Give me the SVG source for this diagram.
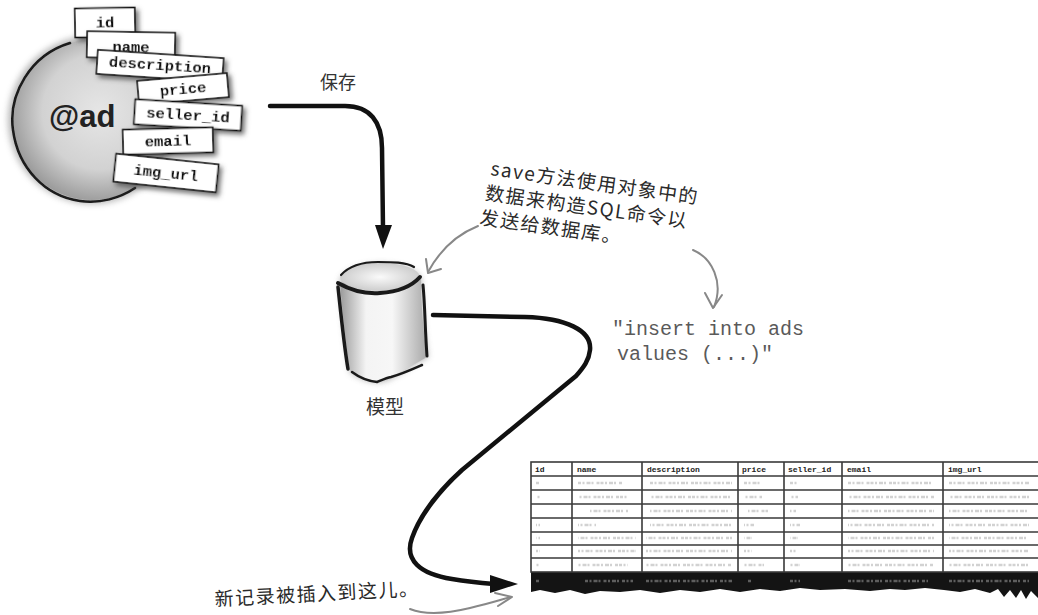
<svg xmlns="http://www.w3.org/2000/svg" width="1038" height="615" viewBox="0 0 1038 615">
  <defs>
    <style>
      .field rect { fill: #fff; stroke: #111; stroke-width: 1.6; }
      .field text { font-family: "Liberation Mono", "Courier New", monospace; font-weight: bold; font-size: 15.5px; fill: #111; text-anchor: middle; }
      .cjk { font-family: "Noto Sans CJK SC", "Noto Sans", sans-serif; fill: #333; }
      .hand { font-family: "Noto Sans CJK SC", "Noto Sans", sans-serif; fill: #2a2a2a; font-size: 19px; letter-spacing: 1.5px; }
      .sql { font-family: "Liberation Mono", "Courier New", monospace; font-size: 20px; fill: #5a5a5a; }
      .thick { fill: none; stroke: #111; stroke-width: 4.5; stroke-linecap: round; stroke-linejoin: round; }
      .pencil { fill: none; stroke: #888; stroke-width: 2; stroke-linecap: round; stroke-linejoin: round; }
      .ink { fill: none; stroke: #1a1a1a; stroke-linecap: round; stroke-linejoin: round; }
      .grid { stroke: #3a3a3a; stroke-width: 1.6; fill: none; }
      .head { font-family: "Liberation Mono", "Courier New", monospace; font-weight: bold; font-size: 8px; fill: #222; }
      .blur-row { fill: none; stroke: #d2d2d2; stroke-width: 2.5; }
      .blur-dark { fill: none; stroke: #5e5e5e; stroke-width: 2.5; }
    </style>
    <radialGradient id="blobFill" cx="0.55" cy="0.45" r="0.6">
      <stop offset="0" stop-color="#e6e6e6"/>
      <stop offset="0.6" stop-color="#d2d2d2"/>
      <stop offset="1" stop-color="#929292"/>
    </radialGradient>
    <linearGradient id="cylBody" x1="0" y1="0" x2="1" y2="0">
      <stop offset="0" stop-color="#9a9a9a"/>
      <stop offset="0.3" stop-color="#f4f4f4"/>
      <stop offset="0.6" stop-color="#f7f7f7"/>
      <stop offset="1" stop-color="#a8a8a8"/>
    </linearGradient>
    <radialGradient id="cylTop" cx="0.5" cy="0.5" r="0.6">
      <stop offset="0" stop-color="#fafafa"/>
      <stop offset="1" stop-color="#c4c4c4"/>
    </radialGradient>
    <filter id="soft" x="-30%" y="-30%" width="160%" height="160%">
      <feGaussianBlur stdDeviation="3"/>
    </filter>
    <filter id="edge" x="-20%" y="-20%" width="140%" height="140%">
      <feGaussianBlur stdDeviation="0.6"/>
    </filter>
    <filter id="cardShadow" x="-20%" y="-40%" width="150%" height="190%">
      <feDropShadow dx="3" dy="3" stdDeviation="2.5" flood-color="#444" flood-opacity="0.75"/>
    </filter>
  </defs>

  <rect width="1038" height="615" fill="#fff"/>

  <!-- the @ad object with its attribute cards -->
  <g id="ad-object">
    <circle cx="92" cy="120" r="84" fill="#9a9a9a" filter="url(#soft)" opacity="0.7"/>
    <circle cx="92" cy="120" r="80" fill="url(#blobFill)"/>
    <path d="M70,43 C30,55 8,95 13,130 C18,168 45,196 80,201 C100,204 120,198 135,188" class="ink" stroke-width="2.5" filter="url(#edge)"/>
    <text x="49" y="127" font-family="Liberation Sans, Arial, sans-serif" font-weight="bold" font-size="31" fill="#222">@ad</text>

    <g id="field-id" class="field" filter="url(#cardShadow)" transform="translate(105,22.5) rotate(-1)">
      <rect x="-30" y="-14.5" width="60" height="29"/>
      <text y="5">id</text>
    </g>
    <g id="field-name" class="field" filter="url(#cardShadow)" transform="translate(131,45) rotate(1)">
      <rect x="-44" y="-13" width="88" height="26"/>
      <text y="7">name</text>
    </g>
    <g id="field-description" class="field" filter="url(#cardShadow)" transform="translate(160,66) rotate(3.8)">
      <rect x="-63" y="-12" width="126" height="24"/>
      <text y="4">description</text>
    </g>
    <g id="field-price" class="field" filter="url(#cardShadow)" transform="translate(183,89) rotate(-5)">
      <rect x="-45" y="-12" width="90" height="24"/>
      <text y="5">price</text>
    </g>
    <g id="field-seller_id" class="field" filter="url(#cardShadow)" transform="translate(188,115) rotate(3.5)">
      <rect x="-53.5" y="-12.5" width="107" height="25"/>
      <text y="5">seller_id</text>
    </g>
    <g id="field-email" class="field" filter="url(#cardShadow)" transform="translate(168,141) rotate(-1.5)">
      <rect x="-45" y="-12.5" width="90" height="25"/>
      <text y="5">email</text>
    </g>
    <g id="field-img_url" class="field" filter="url(#cardShadow)" transform="translate(166,173) rotate(6)">
      <rect x="-51.5" y="-14" width="103" height="28"/>
      <text y="5">img_url</text>
    </g>
  </g>

  <!-- the model: a hand-drawn cylinder -->
  <g id="model">
    <path d="M340,280 C342,310 346,345 350,372 C362,380 375,385 388,380 C402,373 414,364 428,357 C424,330 421,305 421,278 C410,260 352,258 340,280 Z" fill="#9c9c9c" filter="url(#soft)" opacity="0.8"/>
    <path d="M340,283 C342,310 346,345 350,371 C362,378 375,384 388,379 C402,372 414,364 427,357 C423,330 421,305 421,278 Z" fill="url(#cylBody)"/>
    <ellipse cx="380" cy="277" rx="40" ry="14" fill="url(#cylTop)"/>
    <path d="M341,275 C350,265 365,262 378,262 C392,262 406,262 414,267" class="ink" stroke-width="2.2"/>
    <path d="M338,283 C352,291 366,294 380,293 C396,292 411,287 420,277" class="ink" stroke-width="4"/>
    <path d="M338,287 C341,315 344,345 348,369" class="ink" stroke-width="3.5"/>
    <path d="M423,285 C425,305 425,330 427,356" class="ink" stroke-width="3"/>
    <path d="M352,372 C360,378 368,381 377,382 C382,380 386,378 391,377 C402,374 413,369 422,365" class="ink" stroke-width="2.5"/>
    <text x="385" y="414" class="cjk" font-size="19" text-anchor="middle">模型</text>
  </g>

  <!-- the ads table -->
  <g id="ads-table">
    <path d="M531,572 L1038,572 L1038,598 L1031,591 L1026,599 L1021,590 L1016,598 L1010,590 L1004,597 L998,589 L990,593 L975,589 L960,592 L944,590 L925,588 L905,590 L890,589 L870,591 L845,589 L820,590 L800,588 L780,591 L760,589 L740,592 L720,589 L700,592 L680,590 L660,593 L640,590 L620,592 L600,591 L585,594 L570,590 L555,593 L540,590 L531,592 Z" fill="#141414"/>
    <rect x="531" y="462" width="510" height="110" fill="#fff" class="grid"/>
    <path class="grid" d="M531,476 H1038 M531,490 H1038 M531,504 H1038 M531,518 H1038 M531,532 H1038 M531,545 H1038 M531,558 H1038"/>
    <path class="grid" d="M572,462 V572 M642,462 V572 M738,462 V572 M784,462 V572 M842,462 V572 M943,462 V572"/>
    <text class="head" x="535" y="472">id</text>
    <text class="head" x="577" y="472">name</text>
    <text class="head" x="647" y="472">description</text>
    <text class="head" x="742" y="472">price</text>
    <text class="head" x="788" y="472">seller_id</text>
    <text class="head" x="847" y="472">email</text>
    <text class="head" x="948" y="472">img_url</text>
    <!-- blurred cell contents -->
    <g class="blur-row" stroke-dasharray="3 1.5 2 2 4 1 2 3 3 1">
      <path d="M536,483 h4 M578,483 h45 M650,483 h82 M744,483 h16 M790,483 h8 M848,483 h86 M949,483 h80"/>
      <path d="M536,497 h4 M578,497 h50 M650,497 h82 M744,497 h18 M790,497 h8 M848,497 h86 M949,497 h80" stroke-dashoffset="3"/>
      <path d="M590,511 h38 M650,511 h82 M748,511 h20 M790,511 h6 M848,511 h86 M949,511 h80" stroke-dashoffset="5"/>
      <path d="M536,525 h4 M578,525 h18 M650,525 h82 M744,525 h10 M790,525 h10 M848,525 h86 M949,525 h80" stroke-dashoffset="2"/>
      <path d="M536,538 h4 M578,538 h58 M646,538 h86 M744,538 h8 M790,538 h8 M848,538 h86 M949,538 h80" stroke-dashoffset="6"/>
      <path d="M536,551 h4 M578,551 h58 M646,551 h86 M744,551 h8 M790,551 h6 M848,551 h86 M949,551 h80" stroke-dashoffset="1"/>
      <path d="M536,565 h4 M578,565 h50 M646,565 h86 M744,565 h20 M790,565 h10 M848,565 h86 M949,565 h80" stroke-dashoffset="4"/>
    </g>
    <path class="blur-dark" stroke-dasharray="3 1.5 2 2 4 1 2 3" d="M536,581 h4 M585,581 h48 M646,581 h86 M748,581 h4 M790,581 h10 M848,581 h80 M949,581 h80"/>
  </g>

  <!-- handwritten notes -->
  <g id="notes">
    <text class="cjk" x="338" y="89" font-size="18" text-anchor="middle">保存</text>
    <text class="hand" transform="translate(490,175) rotate(8)">
      <tspan x="0" y="0">save方法使用对象中的</tspan>
      <tspan x="-2" y="25">数据来构造SQL命令以</tspan>
      <tspan x="-4" y="50">发送给数据库。</tspan>
    </text>
    <text class="sql" x="612" y="335">"insert into ads</text>
    <text class="sql" x="617" y="360">values (...)"</text>
    <text class="hand" transform="translate(215,606) rotate(-3)">新记录被插入到这儿。</text>
  </g>

  <!-- connectors -->
  <g id="connectors">
    <path class="thick" d="M270,106 L345,106 C370,106 382,122 382,148 L383,228"/>
    <polygon points="375,225 392,225 383,249" fill="#111"/>

    <path class="thick" d="M433,315 L525,317 C565,318 592,330 590,350 C589,360 584,367 576,376 L462,470 C440,490 420,515 412,538 C404,560 420,574 452,579 C470,582 482,583 494,584"/>
    <polygon points="490,575 518,584 490,593" fill="#111"/>

    <path class="pencil" d="M478,226 C458,234 440,250 428,272"/>
    <path class="pencil" d="M426,259 L428,273 L441,269"/>

    <path class="pencil" d="M693,250 C712,258 724,282 714,307"/>
    <path class="pencil" d="M705,293 L713,308 L722,295"/>

    <path class="pencil" d="M410,609 C425,615 445,614 470,608 C488,604 500,600 511,597"/>
    <path class="pencil" d="M495,593 L512,597 L498,606"/>
  </g>
</svg>
